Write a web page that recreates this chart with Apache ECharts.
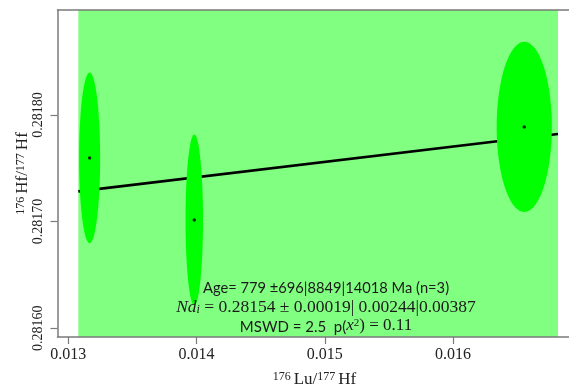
<!DOCTYPE html>
<html>
<head>
<meta charset="utf-8">
<script src="https://cdn.jsdelivr.net/npm/echarts@6/dist/echarts.min.js"></script>
<style>
  html, body { margin: 0; padding: 0; background: #ffffff; }
  #chart { width: 569px; height: 390px; }
</style>
</head>
<body>
<div id="chart"></div>
<script>
// Lu–Hf isochron: three aliquots with their error ellipses and the fitted line

// measured ratios (ellipse centres)
const luHf = [0.013166, 0.013982, 0.016555];          // 176Lu/177Hf
const hfHf = [0.2817597, 0.2817016, 0.2817888];       // 176Hf/177Hf
// ellipse half-axes
const luHfErr = [0.000082, 0.000068, 0.000215];
const hfHfErr = [0.0000800, 0.0000800, 0.0000797];

// isochron fit
const isoIntercept = 0.28154;
const isoSlope = 0.01440;
const fitSpan = [0.013078, 0.016818];

// axes
const xTicks = [0.013, 0.014, 0.015, 0.016];
const yTicks = [0.2816, 0.2817, 0.2818];
const xExtent = [0.0129156, 0.0169234];
const yExtent = [0.2815918, 0.2818984];

const serif = 'Liberation Serif';
const sans = 'Lato';
const axisGrey = '#7a7a7a';
const ink = '#1a1a1a';

const ellipseRows = luHf.map((x, i) => [x, hfHf[i], luHfErr[i], hfHfErr[i]]);
const pointRows = luHf.map((x, i) => [x, hfHf[i]]);
const fitRows = fitSpan.map(x => [x, isoIntercept + isoSlope * x]);

const nameRich = {
  sup: { fontFamily: serif, fontSize: 12, color: '#222', verticalAlign: 'top', padding: [0, 3, 0, 0] },
  n: { fontFamily: serif, fontSize: 17, color: '#222', verticalAlign: 'bottom' }
};

const chart = echarts.init(document.getElementById('chart'), null, { renderer: 'canvas' });

chart.setOption({
  animation: false,
  backgroundColor: '#ffffff',
  grid: {
    left: 57.5, top: 10, width: 514, height: 327,
    show: false, containLabel: false, outerBoundsMode: 'none'
  },
  xAxis: [{
    type: 'value',
    min: xExtent[0],
    max: xExtent[1],
    position: 'bottom',
    z: 10,
    axisLine: { show: true, lineStyle: { color: axisGrey, width: 1.5 } },
    axisTick: { show: true, length: 7, customValues: xTicks, lineStyle: { color: axisGrey, width: 1.2 } },
    axisLabel: {
      customValues: xTicks,
      formatter: v => v.toFixed(3),
      fontFamily: serif, fontSize: 16, color: '#222', margin: 10
    },
    splitLine: { show: false },
    name: '{sup|176}{n|Lu/}{sup|177}{n|Hf}',
    nameLocation: 'middle',
    nameGap: 34,
    nameMoveOverlap: false,
    nameTextStyle: { rich: nameRich }
  }, {
    type: 'value',
    min: xExtent[0],
    max: xExtent[1],
    position: 'top',
    z: 10,
    axisLine: { show: true, lineStyle: { color: axisGrey, width: 1.5 } },
    axisTick: { show: false },
    axisLabel: { show: false },
    splitLine: { show: false }
  }],
  yAxis: {
    type: 'value',
    min: yExtent[0],
    max: yExtent[1],
    z: 10,
    axisLine: { show: true, lineStyle: { color: axisGrey, width: 1.5 } },
    axisTick: { show: true, length: 7, customValues: yTicks, lineStyle: { color: axisGrey, width: 1.2 } },
    axisLabel: {
      customValues: yTicks,
      formatter: v => v.toFixed(5),
      rotate: 90,
      fontFamily: serif, fontSize: 14, color: '#222', margin: 12
    },
    splitLine: { show: false },
    name: '{sup|176}{n|Hf/}{sup|177}{n|Hf}',
    nameLocation: 'middle',
    nameGap: 26,
    nameMoveOverlap: false,
    nameTextStyle: { rich: nameRich }
  },
  series: [
    {
      // shaded band behind the data
      type: 'custom',
      z: 1,
      silent: true,
      data: [fitSpan],
      renderItem: (params, api) => {
        const a = api.coord([api.value(0), yExtent[1]]);
        const b = api.coord([api.value(1), yExtent[0]]);
        return {
          type: 'rect',
          shape: { x: a[0], y: a[1], width: b[0] - a[0], height: b[1] - a[1] },
          style: { fill: '#80ff80' }
        };
      },
      encode: { x: [0, 1] }
    },
    {
      // isochron
      type: 'line',
      z: 2,
      data: fitRows,
      symbol: 'none',
      lineStyle: { color: '#000', width: 2.6 }
    },
    {
      // error ellipses
      type: 'custom',
      z: 3,
      data: ellipseRows,
      renderItem: (params, api) => {
        const cx = api.value(0), cy = api.value(1);
        const ex = api.value(2), ey = api.value(3);
        const pts = [];
        for (let k = 0; k < 96; k++) {
          const t = (k / 96) * Math.PI * 2;
          pts.push(api.coord([cx + ex * Math.cos(t), cy + ey * Math.sin(t)]));
        }
        return { type: 'polygon', shape: { points: pts }, style: { fill: '#00ff00' } };
      },
      encode: { x: 0, y: 1 }
    },
    {
      type: 'scatter',
      z: 4,
      data: pointRows,
      symbol: 'circle',
      symbolSize: 3.5,
      itemStyle: { color: '#000' }
    }
  ],
  graphic: [
    {
      type: 'text', x: 326, y: 288, z: 20,
      style: {
        text: 'Age= 779 ±696|8849|14018 Ma (n=3)',
        font: '14.7px ' + sans, fill: ink, align: 'center', verticalAlign: 'middle'
      }
    },
    {
      type: 'text', x: 326, y: 307, z: 20,
      style: {
        text: '{it|Nd}{sub|i}{m| = 0.28154 ± 0.00019| 0.00244|0.00387}',
        align: 'center', verticalAlign: 'middle',
        rich: {
          it: { fontFamily: serif, fontStyle: 'italic', fontSize: 17.5, fill: ink, verticalAlign: 'top' },
          sub: { fontFamily: serif, fontStyle: 'italic', fontSize: 12, fill: ink, verticalAlign: 'bottom' },
          m: { fontFamily: serif, fontSize: 17.5, fill: ink, verticalAlign: 'top' }
        }
      }
    },
    {
      type: 'text', x: 326, y: 326, z: 20,
      style: {
        text: '{s|MSWD = 2.5  p(}{it|x}{sup|2}{m|) = 0.11}',
        align: 'center', verticalAlign: 'middle',
        rich: {
          s: { fontFamily: sans, fontSize: 15, fill: ink, verticalAlign: 'bottom' },
          it: { fontFamily: serif, fontStyle: 'italic', fontSize: 17, fill: ink, verticalAlign: 'bottom' },
          sup: { fontFamily: serif, fontSize: 11, fill: ink, verticalAlign: 'top' },
          m: { fontFamily: serif, fontSize: 17, fill: ink, verticalAlign: 'bottom' }
        }
      }
    }
  ]
});
</script>
</body>
</html>
